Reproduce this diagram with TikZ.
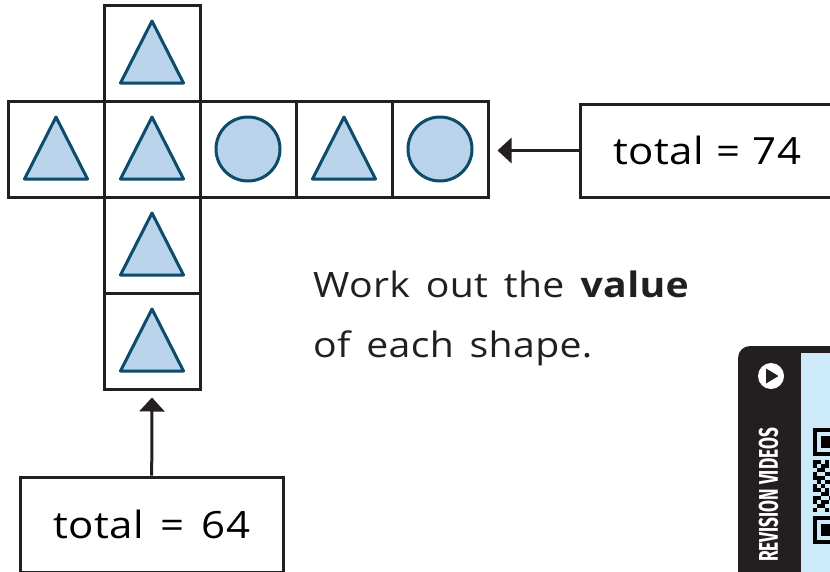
\documentclass[tikz,border=0pt]{standalone}
\usepackage{fontspec}
\setmainfont{Open Sans}[FakeStretch=1.12,LetterSpace=1,WordSpace=1.5]
\newfontfamily\bannerfont{Fira Sans}
\usetikzlibrary{arrows.meta,calc}
\definecolor{ink}{HTML}{231F20}
\definecolor{shapeline}{HTML}{0E4A6B}
\definecolor{shapefill}{HTML}{B9D3EB}
\definecolor{panelblue}{HTML}{CDEAFA}
\tikzset{
  cell/.style={draw=ink, line width=3pt, minimum size=96pt, inner sep=0pt},
  tri/.style={draw=shapeline, fill=shapefill, line width=3pt, line join=round},
  circ/.style={draw=shapeline, fill=shapefill, line width=3pt},
  totalbox/.style={draw=ink, line width=3pt, inner sep=0pt, font=\fontsize{37.5}{40}\selectfont},
  pointer/.style={draw=ink, line width=3pt, -{Triangle[length=14pt,width=25pt]}},
}
\newcommand{\triin}[1]{\draw[tri] ($(#1)+(0,-32)$) -- ($(#1)+(31.5,30)$) -- ($(#1)+(-31.5,30)$) -- cycle;}
\begin{document}
\begin{tikzpicture}[x=1pt,y=-1pt]
\useasboundingbox (0,0) rectangle (830,571);
\begin{scope}
\clip (0,0) rectangle (830,571);
% grid
\node[cell] (r1) at (56,149) {};
\node[cell] (r2) at (152,149) {};
\node[cell] (r3) at (248,149) {};
\node[cell] (r4) at (344,149) {};
\node[cell] (r5) at (440,149) {};
\node[cell] (c1) at (152,53) {};
\node[cell] (c3) at (152,245) {};
\node[cell] (c4) at (152,341) {};
% shapes
\triin{r1}
\triin{r2}
\triin{r4}
\triin{c1}
\triin{c3}
\triin{c4}
\draw[circ] (r3) circle (32);
\draw[circ] (r5) circle (32);
% total boxes
\node[totalbox, anchor=west, minimum height=93pt, text width=240pt, inner xsep=33pt, align=left] (t74) at (579,150.5) {total = 74};
\node[totalbox, minimum width=263pt, minimum height=95pt] (t64) at (151.7,524.5) {total = 64};
\draw[pointer, shorten >=8pt] (t74.west) -- (t74.west -| r5.east);
\draw[pointer, shorten >=7pt] (t64.north) -- (c4.south);
% instruction
\node[anchor=base west, inner sep=0pt, font=\fontsize{35}{40}\selectfont, text=ink] (ins1) at (313,297) {Work out the \textbf{value}};
\node[anchor=base west, inner sep=0pt, font=\fontsize{35}{40}\selectfont, text=ink] (ins2) at (313,357) {of each shape.};
% revision videos panel
\fill[ink, rounded corners=12pt] (738,346) rectangle (900,640);
\fill[panelblue] (801,353) rectangle (900,640);
\node[rotate=90, text=white, inner sep=0pt, font=\bannerfont\bfseries\fontsize{27}{27}\selectfont] (rv) at (768.5,495) {\scalebox{0.64}[1]{REVISION VIDEOS}};
\fill[white] (771,376) circle (13);
\fill[ink] (766,368.5) -- (778.5,376) -- (766,383.5) -- cycle;
% qr fragment
\fill[black] (813,428) rectangle (841,456);
\fill[panelblue] (817,432) rectangle (837,452);
\fill[black] (821,436) rectangle (833,448);
\fill[black] (813,516) rectangle (841,544);
\fill[panelblue] (817,520) rectangle (837,540);
\fill[black] (821,524) rectangle (833,536);
\foreach \c/\r in {0/8,1/8,3/8,0/9,2/9,3/9,1/10,2/10,0/11,3/11,4/11,0/12,1/12,2/12,1/13,3/13,4/13,0/14,2/14,0/15,1/15,3/15,2/16,3/16,0/17,1/17,4/17,0/18,2/18,3/18,1/19,2/19,0/20,3/20}
  \fill[black] (813+4*\c,428+4*\r) rectangle (817+4*\c,432+4*\r);
\end{scope}
\end{tikzpicture}
\end{document}
